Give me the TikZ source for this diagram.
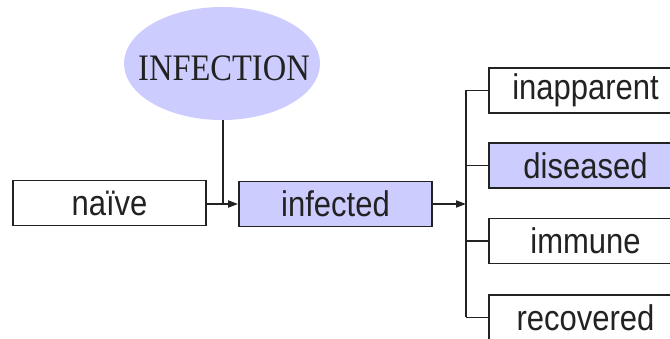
\documentclass[tikz,border=0pt]{standalone}
\usepackage{fontspec}
\setmainfont{Liberation Sans}
\newfontfamily\serifinf{Liberation Serif}
\usetikzlibrary{shapes.geometric,arrows.meta}
\definecolor{lav}{HTML}{CCCCFF}
\definecolor{ink}{HTML}{222222}
\newcommand{\tallt}[1]{\scalebox{1}[1.15]{#1}}
\tikzset{
  stbox/.style={draw=ink, line width=1.8pt, minimum width=193pt, minimum height=45pt,
    inner sep=0pt, font=\fontsize{31}{31}\selectfont, text=ink},
  hl/.style={fill=lav},
  conn/.style={draw=ink, line width=1.8pt},
  arr/.style={conn, -{Triangle[length=10pt,width=7pt]}},
}
\begin{document}
\begin{tikzpicture}[x=1pt,y=-1pt]
\clip (0,0) rectangle (670,339);
\fill[white] (0,0) rectangle (670,339);
\fill[lav] (222,63.5) ellipse [x radius=98, y radius=56.5];
\node[inner sep=0pt, font=\serifinf\fontsize{32.5}{32}\selectfont, text=ink] (inf) at (224,68) {\tallt{INFECTION}};
\coordinate (infb) at (223,120);
\node[stbox] (naive) at (109.5,203) {\tallt{naïve}};
\node[stbox, hl] (infected) at (335.5,204) {\tallt{infected}};
\node[stbox] (inapp) at (585.5,90.5) {\tallt{inapparent}};
\node[stbox, hl] (dis) at (585.5,165.5) {\tallt{diseased}};
\node[stbox] (imm) at (585.5,241) {\tallt{immune}};
\node[stbox] (rec) at (585.5,317.5) {\tallt{recovered}};
\coordinate (j1) at (223,204);
\coordinate (j2) at (466,204);
\draw[conn] (infb) -- (j1);
\draw[arr] (naive.east |- j1) -- (infected.west |- j1);
\draw[arr] (infected.east |- j2) -- (j2);
\draw[conn] (inapp.west -| j2) -- (rec.west -| j2);
\draw[conn] (inapp.west -| j2) -- (inapp.west);
\draw[conn] (dis.west -| j2) -- (dis.west);
\draw[conn] (imm.west -| j2) -- (imm.west);
\draw[conn] (rec.west -| j2) -- (rec.west);
\end{tikzpicture}
\end{document}
